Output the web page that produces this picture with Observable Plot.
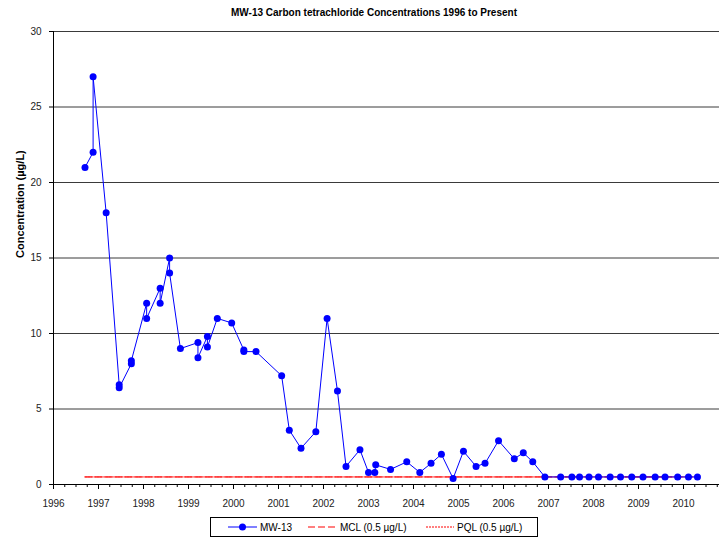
<!DOCTYPE html>
<html>
<head>
<meta charset="utf-8">
<script src="https://cdn.jsdelivr.net/npm/d3@7"></script>
<script src="https://cdn.jsdelivr.net/npm/@observablehq/plot@0.6"></script>
<style>
  html, body { margin: 0; padding: 0; background: #fff; }
  body { width: 719px; height: 540px; position: relative; overflow: hidden; font-family: "Liberation Sans", Arial, sans-serif; }
  #title { position: absolute; left: 0; top: 0; width: 719px; padding-left: 29px; box-sizing: border-box; height: 22px; line-height: 26px; text-align: center; font-family: "Liberation Sans Narrow", "Liberation Sans", Arial, sans-serif; font-weight: bold; font-size: 10px; color: #000; }
  #chart { position: absolute; left: 0; top: 22px; }
  #legend { position: absolute; left: 210px; top: 517px; width: 328px; height: 20px; border: 1px solid #000; box-sizing: border-box; }
  #legend svg { display: block; }
</style>
</head>
<body>
<div id="title">MW-13 Carbon tetrachloride Concentrations 1996 to Present</div>
<div id="chart"></div>
<div id="legend"></div>
<script>
// ---- data (sample date as decimal year, concentration in µg/L) ----
const sampleYears = [
  1996.70, 1996.88, 1996.88, 1997.17, 1997.46, 1997.46, 1997.73, 1997.73,
  1998.07, 1998.07, 1998.37, 1998.37, 1998.58, 1998.58, 1998.82,
  1999.21, 1999.21, 1999.42, 1999.42, 1999.64, 1999.96, 2000.23, 2000.23, 2000.50,
  2001.07, 2001.24, 2001.50, 2001.83, 2002.08, 2002.31, 2002.50, 2002.81,
  2003.00, 2003.14, 2003.16, 2003.49, 2003.85, 2004.14, 2004.39, 2004.62, 2004.88,
  2005.11, 2005.39, 2005.59, 2005.89, 2006.24, 2006.44, 2006.65,
  2006.92, 2007.27, 2007.52, 2007.69, 2007.90, 2008.11, 2008.37, 2008.60,
  2008.85, 2009.10, 2009.37, 2009.59, 2009.87, 2010.11, 2010.31
];
const mw13Values = [
  21, 22, 27, 18, 6.6, 6.4, 8.0, 8.2,
  12, 11, 13, 12, 15, 14, 9,
  9.4, 8.4, 9.8, 9.1, 11, 10.7, 8.9, 8.8, 8.8,
  7.2, 3.6, 2.4, 3.5, 11, 6.2, 1.2, 2.3,
  0.8, 0.8, 1.3, 1.0, 1.5, 0.8, 1.4, 2.0, 0.4,
  2.2, 1.2, 1.4, 2.9, 1.7, 2.1, 1.5,
  0.5, 0.5, 0.5, 0.5, 0.5, 0.5, 0.5, 0.5,
  0.5, 0.5, 0.5, 0.5, 0.5, 0.5, 0.5
];
const limitYears = [1996.70, 2010.31];
const mclValue = 0.5;
const pqlValue = 0.5;
const yTicks = [0, 5, 10, 15, 20, 25, 30];
const xTickYears = d3.range(1996, 2011);
const xDomain = [1996, 2010.8];
const yLabel = "Concentration (µg/L)";
const legendLabels = ["MW-13", "MCL (0.5 µg/L)", "PQL (0.5 µg/L)"];

const mw13 = sampleYears.map((x, i) => ({x, y: mw13Values[i]}));
const mcl = limitYears.map(x => ({x, y: mclValue}));
const pql = limitYears.map(x => ({x, y: pqlValue}));
const minorTicks = d3.range(1996, 2010.8, 0.25).filter(t => Math.abs(t - Math.round(t)) > 1e-6);

const blue = "#0000ff";
const red = "#ff0000";

const chart = Plot.plot({
  width: 719,
  height: 490,
  marginLeft: 53,
  marginRight: 0,
  marginTop: 9,
  marginBottom: 28,
  style: {fontFamily: "'Liberation Sans', Arial, sans-serif", fontSize: "10px", color: "#222", background: "#fff", overflow: "visible"},
  x: {type: "linear", domain: xDomain},
  y: {domain: [0, 30]},
  marks: [
    Plot.gridY(yTicks, {stroke: "#3a3a3a", strokeOpacity: 1, strokeWidth: 1}),
    Plot.axisY({ticks: yTicks, tickSize: 4, tickPadding: 8, label: null, tickFormat: d => String(d), stroke: "#000"}),
    Plot.axisX({ticks: xTickYears, tickSize: 5, tickPadding: 10, label: null, tickFormat: d => String(d), stroke: "#000"}),
    Plot.axisX({ticks: minorTicks, tickSize: 3, label: null, tickFormat: () => "", stroke: "#000"}),
    Plot.ruleX([xDomain[0]], {stroke: "#000", strokeWidth: 1}),
    Plot.ruleY([0], {stroke: "#000", strokeWidth: 1}),
    Plot.text([yLabel], {frameAnchor: "left", text: d => d, rotate: -90, dx: -33, fontWeight: "bold", fontSize: 11, fill: "#000"}),
    Plot.line(mcl, {x: "x", y: "y", stroke: red, strokeWidth: 1, strokeDasharray: "7,3"}),
    Plot.line(pql, {x: "x", y: "y", stroke: red, strokeWidth: 1, strokeDasharray: "2,1", strokeOpacity: 0.8}),
    Plot.line(mw13, {x: "x", y: "y", stroke: blue, strokeWidth: 1}),
    Plot.dot(mw13, {x: "x", y: "y", r: 3.5, fill: blue, stroke: null})
  ]
});
document.getElementById("chart").appendChild(chart);

// legend (below the chart)
const lg = d3.select("#legend").append("svg").attr("width", 326).attr("height", 18)
  .style("font-family", "'Liberation Sans', Arial, sans-serif").style("font-size", "10px");
const cy = 9;
lg.append("line").attr("x1", 17).attr("x2", 46).attr("y1", cy).attr("y2", cy).attr("stroke", blue);
lg.append("circle").attr("cx", 31.5).attr("cy", cy).attr("r", 3.5).attr("fill", blue);
lg.append("text").attr("x", 49).attr("y", cy).attr("dy", "0.35em").text(legendLabels[0]);
lg.append("line").attr("x1", 97).attr("x2", 126).attr("y1", cy).attr("y2", cy).attr("stroke", red).attr("stroke-dasharray", "7,3");
lg.append("text").attr("x", 129).attr("y", cy).attr("dy", "0.35em").text(legendLabels[1]);
lg.append("line").attr("x1", 215).attr("x2", 243).attr("y1", cy).attr("y2", cy).attr("stroke", red).attr("stroke-dasharray", "2,1");
lg.append("text").attr("x", 246).attr("y", cy).attr("dy", "0.35em").text(legendLabels[2]);
</script>
</body>
</html>
